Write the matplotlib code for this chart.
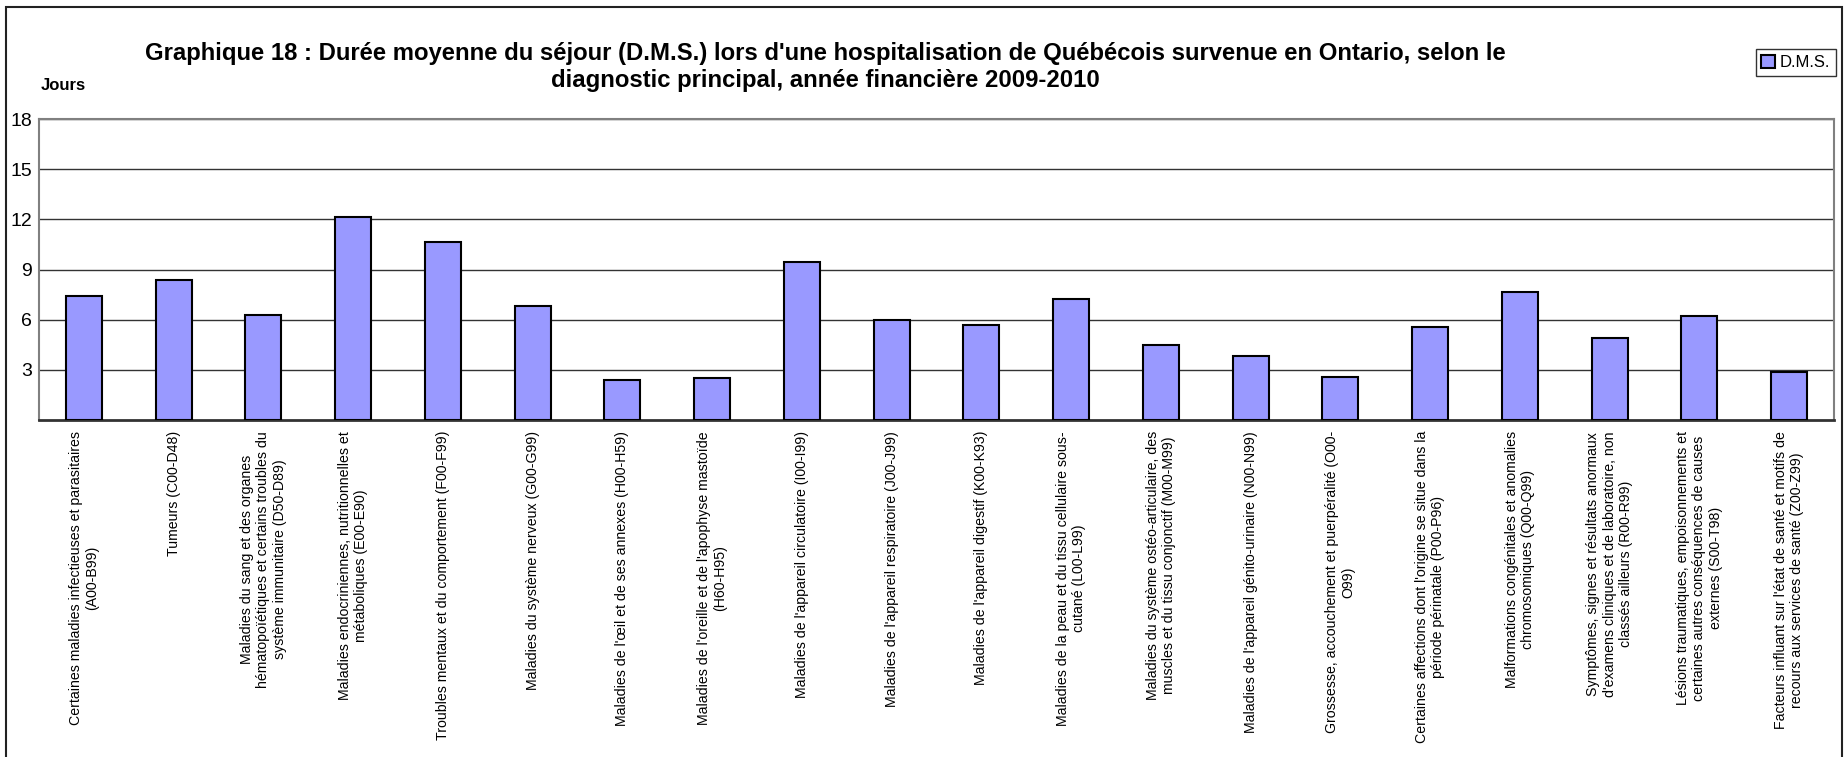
import matplotlib
matplotlib.use("Agg")
import matplotlib.pyplot as plt
from matplotlib.patches import Rectangle

plt.rcParams['font.family'] = ['Liberation Sans', 'DejaVu Sans']

# diagnostic categories (x axis)
categories = [
    "Certaines maladies infectieuses et parasitaires\n(A00-B99)",
    "Tumeurs (C00-D48)",
    "Maladies du sang et des organes\nhématopoïétiques et certains troubles du\nsystème immunitaire (D50-D89)",
    "Maladies endocriniennes, nutritionnelles et\nmétaboliques (E00-E90)",
    "Troubles mentaux et du comportement (F00-F99)",
    "Maladies du système nerveux (G00-G99)",
    "Maladies de l'œil et de ses annexes (H00-H59)",
    "Maladies de l'oreille et de l'apophyse mastoïde\n(H60-H95)",
    "Maladies de l'appareil circulatoire (I00-I99)",
    "Maladies de l'appareil respiratoire (J00-J99)",
    "Maladies de l'appareil digestif (K00-K93)",
    "Maladies de la peau et du tissu cellulaire sous-\ncutané (L00-L99)",
    "Maladies du système ostéo-articulaire, des\nmuscles et du tissu conjonctif (M00-M99)",
    "Maladies de l'appareil génito-urinaire (N00-N99)",
    "Grossesse, accouchement et puerpéralité (O00-\nO99)",
    "Certaines affections dont l'origine se situe dans la\npériode périnatale (P00-P96)",
    "Malformations congénitales et anomalies\nchromosomiques (Q00-Q99)",
    "Symptômes, signes et résultats anormaux\nd'examens cliniques et de laboratoire, non\nclassés ailleurs (R00-R99)",
    "Lésions traumatiques, empoisonnements et\ncertaines autres conséquences de causes\nexternes (S00-T98)",
    "Facteurs influant sur l'état de santé et motifs de\nrecours aux services de santé (Z00-Z99)",
]

# durée moyenne du séjour (jours)
dms = [7.4, 8.4, 6.25, 12.15, 10.65, 6.8, 2.4, 2.5, 9.45, 6.0,
       5.7, 7.25, 4.5, 3.8, 2.6, 5.55, 7.65, 4.9, 6.2, 2.85]

y_ticks = [3, 6, 9, 12, 15, 18]

title = ("Graphique 18 : Durée moyenne du séjour (D.M.S.) lors d'une hospitalisation de Québécois survenue en Ontario, selon le\n"
         "diagnostic principal, année financière 2009-2010")

fig = plt.figure(figsize=(18.49, 7.57), dpi=100)

# outer frame
fig.patches.append(Rectangle((6/1849, -0.01), 1836/1849, 1 - 7/757 + 0.01,
                             transform=fig.transFigure, fill=False,
                             edgecolor='#222222', linewidth=1.5))

ax = fig.add_axes([39/1849, 1 - 420/757, 1795/1849, 301/757])
x = range(len(dms))
ax.bar(x, dms, width=0.4, color='#9999FF', edgecolor='black',
       linewidth=1.5, label='D.M.S.', zorder=3)

ax.set_ylim(0, 18)
ax.set_xlim(-0.5, len(dms) - 0.5)
ax.set_yticks(y_ticks)
ax.set_yticklabels([str(t) for t in y_ticks], fontsize=14)
ax.tick_params(axis='y', length=0, pad=5)
ax.yaxis.grid(True, color='#333333', linewidth=1, zorder=0)
ax.set_axisbelow(True)

ax.set_xticks(list(x))
ax.set_xticklabels(categories, rotation=90, fontsize=10.2, multialignment='center')
ax.tick_params(axis='x', length=0, pad=8)

for s in ['top', 'right', 'left']:
    ax.spines[s].set_color('#808080')
    ax.spines[s].set_linewidth(1.5)
ax.spines['bottom'].set_color('#333333')
ax.spines['bottom'].set_linewidth(2)

fig.text(825/1849, 1 - 67/757, title, ha='center', va='center',
         fontsize=17.2, fontweight='bold', linespacing=1.25)
fig.text(41/1849, 1 - 85/757, "Jours", ha='left', va='center',
         fontsize=12, fontweight='bold')

fig.legend(loc='upper right', bbox_to_anchor=(1836/1849, 1 - 49/757),
           fontsize=12, frameon=True, fancybox=False, edgecolor='black',
           handlelength=0.8, handleheight=0.8, handletextpad=0.3,
           borderpad=0.35, borderaxespad=0)

fig.savefig("out.png", dpi=100)
